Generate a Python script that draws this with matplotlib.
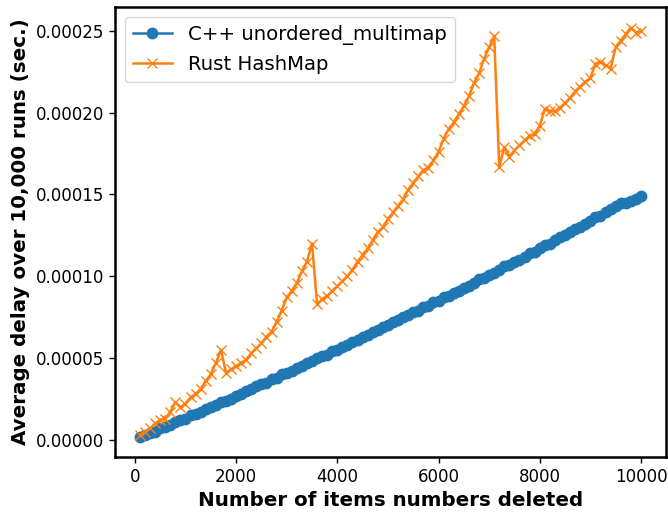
import matplotlib
matplotlib.use("Agg")
import matplotlib.pyplot as plt
import numpy as np

# items deleted: 100, 200, ..., 10000
n_items = list(range(100, 10001, 100))

# average delay, microseconds
cpp_us = [2, 3, 4, 5, 7, 8, 9, 11, 12, 13,
          15, 16, 17, 19, 20, 21, 23, 24, 25, 27,
          28, 30, 31, 33, 34, 35, 37, 38, 40, 41,
          42, 44, 45, 47, 48, 50, 51, 52, 54, 55,
          57, 58, 60, 61, 63, 64, 66, 67, 69, 70,
          72, 73, 75, 76, 78, 79, 81, 82, 84, 85,
          87, 88, 90, 91, 93, 94, 96, 98, 99, 101,
          102, 104, 106, 107, 109, 110, 112, 114, 115, 117,
          119, 120, 122, 124, 125, 127, 129, 130, 132, 134,
          136, 137, 139, 141, 143, 145, 145, 146, 147, 149]

rust_us = [3, 5, 7, 10, 12, 13, 17, 23, 20, 22,
           26, 28, 31, 36, 40, 47, 55, 41, 43, 45,
           47, 49, 53, 56, 59, 63, 66, 72, 79, 87,
           91, 96, 103, 109, 120, 83, 86, 88, 91, 94,
           97, 100, 104, 109, 113, 117, 122, 127, 130, 135,
           139, 143, 147, 153, 157, 161, 165, 166, 171, 176,
           184, 190, 194, 199, 204, 210, 218, 224, 233, 240,
           247, 167, 179, 173, 177, 180, 183, 186, 187, 192,
           202, 201, 201, 203, 206, 209, 213, 216, 219, 221,
           230, 231, 229, 227, 240, 244, 248, 252, 249, 250]

cpp = np.array(cpp_us) * 1e-6
rust = np.array(rust_us) * 1e-6

plt.rcParams['font.size'] = 12
plt.rcParams['xtick.major.size'] = 4.2
plt.rcParams['ytick.major.size'] = 4.2
plt.rcParams['xtick.major.width'] = 1.0
plt.rcParams['ytick.major.width'] = 1.0

fig = plt.figure(figsize=(6.68, 5.14), dpi=100)
ax = fig.add_axes([0.172, 0.111, 0.825, 0.875])

ax.plot(n_items, cpp, marker='o', markersize=7.5, linewidth=1.8,
        label='C++ unordered_multimap')
ax.plot(n_items, rust, marker='x', markersize=7.5, linewidth=1.8,
        label='Rust HashMap')

ax.set_xlabel('Number of items numbers deleted', fontsize=14.3, fontweight='bold')
ax.set_ylabel('Average delay over 10,000 runs (sec.)', fontsize=14.3, fontweight='bold')
ax.set_xticks([0, 2000, 4000, 6000, 8000, 10000])
ax.set_yticks([0, 0.00005, 0.0001, 0.00015, 0.0002, 0.00025])
ax.set_yticklabels(['0.00000', '0.00005', '0.00010', '0.00015', '0.00020', '0.00025'])
for s in ax.spines.values():
    s.set_linewidth(1.8)
ax.legend(loc='upper left', fontsize=14.2)

fig.savefig('out.png', dpi=100)
